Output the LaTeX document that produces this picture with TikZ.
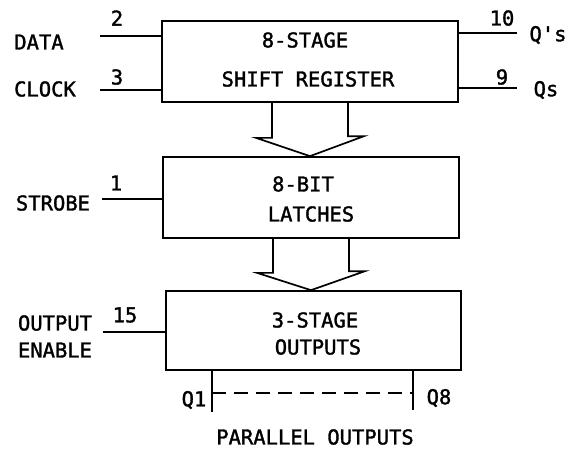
\documentclass[tikz,border=0pt]{standalone}
\usepackage{fontspec}
\newfontfamily\plotfont[FakeBold=1.5]{DejaVu Sans Mono}
\usetikzlibrary{calc}
\begin{document}
\begin{tikzpicture}[x=1pt,y=-1pt,
  line width=1.7pt,
  every node/.style={font=\plotfont\fontsize{20.5}{24}\selectfont, inner sep=0pt},
  blockbox/.style={draw, line width=1.7pt, minimum width=#1, minimum height=80pt},
  lbl/.style={anchor=center},
  pinline/.style={line width=1.7pt},
  bus/.style={line width=1.7pt, line join=miter}
]
\useasboundingbox (0,0) rectangle (568,448);
\fill[white] (0,0) rectangle (568,448);

% blocks
\node[blockbox=296pt, minimum height=81pt] (b1) at (310,61.5) {};
\node[blockbox=296pt, minimum height=81pt] (b2) at (311,197.5) {};
\node[blockbox=295pt, minimum height=79pt] (b3) at (313.5,330.5) {};

% block texts
\node[lbl] (t1a) at (305,40) {8-STAGE};
\node[lbl] (t1b) at (308,79) {SHIFT REGISTER};
\node[lbl] (t2a) at (303,184) {8-BIT};
\node[lbl] (t2b) at (311,214) {LATCHES};
\node[lbl] (t3a) at (315,320) {3-STAGE};
\node[lbl] (t3b) at (318,347) {OUTPUTS};

% bus arrows
\coordinate (tip1) at (b1.south |- b2.north);
\coordinate (tip2) at (b2.south |- b3.north);
\draw[bus] ([xshift=-38pt]b1.south) -- ++(0,35) -- ++(-16,0) -- (tip1)
  -- ([xshift=54pt,yshift=20pt]tip1) -- ([xshift=38pt,yshift=20pt]tip1) -- ([xshift=38pt]b1.south);
\draw[bus] ([xshift=-38pt]b2.south) -- ++(0,34) -- ++(-16,0) -- (tip2)
  -- ([xshift=54pt,yshift=19pt]tip2) -- ([xshift=38pt,yshift=19pt]tip2) -- ([xshift=38pt]b2.south);

% left inputs
\coordinate (dataend) at (100,36);
\coordinate (clkend) at (100,90);
\coordinate (strend) at (102,199);
\coordinate (oeend) at (103,332);
\draw[pinline] (dataend) -- (dataend -| b1.west);
\draw[pinline] (clkend) -- (clkend -| b1.west);
\draw[pinline] (strend) -- (strend -| b2.west);
\draw[pinline] (oeend) -- (oeend -| b3.west);

\node[lbl] (n2) at (117,18) {2};
\node[lbl] (n3) at (117,77) {3};
\node[lbl] (n1) at (116,183) {1};
\node[lbl] (n15) at (125,315) {15};

\node[lbl] (data) at (39,42) {DATA};
\node[lbl] (clock) at (45,89) {CLOCK};
\node[lbl] (strobe) at (53,203) {STROBE};
\node[lbl] (oe1) at (55,323) {OUTPUT};
\node[lbl] (oe2) at (55,350) {ENABLE};

% right outputs
\coordinate (qpend) at (517,33);
\coordinate (qsend) at (517,88);
\draw[pinline] (qpend -| b1.east) -- (qpend);
\draw[pinline] (qsend -| b1.east) -- (qsend);
\node[lbl] (n10) at (502,18) {10};
\node[lbl] (n9) at (502,77) {9};
\node[lbl] (qp) at (548,35) {Q's};
\node[lbl] (qs) at (546,90) {Qs};

% parallel outputs
\coordinate (q1end) at (212,412);
\coordinate (q8end) at (413,410);
\draw[pinline] (q1end |- b3.south) -- (q1end);
\draw[pinline] (q8end |- b3.south) -- (q8end);
\draw[line width=1.4pt, dash pattern=on 14pt off 8pt] (212,393) -- (413,393);
\node[lbl] (q1) at (194,400) {Q1};
\node[lbl] (q8) at (439,398) {Q8};
\node[lbl] (par) at (315,437) {PARALLEL OUTPUTS};
\end{tikzpicture}
\end{document}
